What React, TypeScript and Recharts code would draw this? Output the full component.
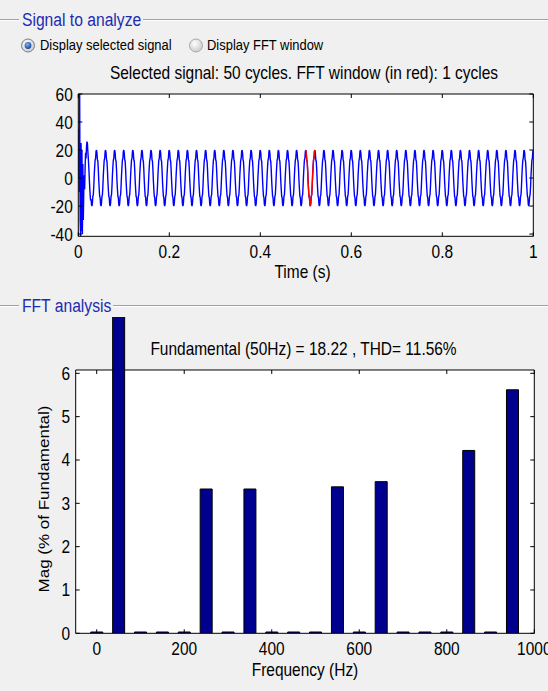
import React from 'react'
import {
  LineChart,
  Line,
  BarChart,
  Bar,
  XAxis,
  YAxis,
  CartesianGrid,
  ReferenceArea,
  ReferenceLine
} from 'recharts'

const FONT = '"Liberation Sans", Arial, Helvetica, sans-serif'
// the screenshot text is narrower than plain Arial
const SQUEEZE = 0.86
const PLOT_FONT = 18

// signal: one steady-state cycle, 1 ms steps, starting on the positive peak
const CYCLE = [20, 18, 13, 12, 6, -2, -8, -13, -14, -19, -20, -18, -13, -12, -6, 2, 8, 13, 14, 19]
// start-up transient, first 40 ms
const TRANSIENT = [
  0, 35, -10, 60, -30, -42, 25, -38, 20, -40, 10, -30, -10, 2, -8, 8, 18, 14, 22, 26,
  25, 19, 14, 8, 1, -6, -12, -16, -15, -19, -20, -18, -13, -12, -6, 2, 8, 13, 14, 19
]
const N_CYCLES = 50
const STEP = 0.001
const FFT_WINDOW = [0.5, 0.52]
const TIME_TICKS = [0, 0.2, 0.4, 0.6, 0.8, 1]
const SIGNAL_TICKS = [-40, -20, 0, 20, 40, 60]
const SIGNAL_DOMAIN = [-41.6, 60]

// FFT harmonics, % of fundamental (fundamental runs off the top)
const FREQS = [0, 50, 100, 150, 200, 250, 300, 350, 400, 450, 500, 550, 600, 650, 700, 750, 800, 850, 900, 950]
const MAGS = [0.03, 100, 0.03, 0.03, 0.03, 3.33, 0.03, 3.33, 0.03, 0.03, 0.03, 3.38, 0.03, 3.5, 0.03, 0.03, 0.03, 4.22, 0.03, 5.62]
const FREQ_TICKS = [0, 200, 400, 600, 800, 1000]
const MAG_TICKS = [0, 1, 2, 3, 4, 5, 6]
const FREQ_DOMAIN = [-48, 1000]
const MAG_DOMAIN = [0, 7.3]
const BOX_TOP = 6.077

const signalData: { t: number; v: number; win: number | null }[] = []
for (let i = 0; i <= N_CYCLES * CYCLE.length; i++) {
  const t = +(i * STEP).toFixed(3)
  const v = i < TRANSIENT.length ? TRANSIENT[i] : CYCLE[i % CYCLE.length]
  signalData.push({ t, v, win: t >= FFT_WINDOW[0] && t <= FFT_WINDOW[1] ? v : null })
}

const fftData = FREQS.map((f, i) => ({ f, m: MAGS[i] }))

const TICK_LEN = 4

function T({ x, y, size = PLOT_FONT, sx = SQUEEZE, anchor = 'middle', fill = '#000', children }: any) {
  return (
    <text
      transform={`translate(${x},${y}) scale(${sx},1)`}
      textAnchor={anchor}
      fontFamily={FONT}
      fontSize={size}
      fill={fill}
    >
      {children}
    </text>
  )
}

const leftTick = (p: any) => (
  <g>
    <line x1={p.x} y1={p.y} x2={p.x + TICK_LEN} y2={p.y} stroke="#000" />
    <T x={p.x - 5.5} y={p.y + 6.5} anchor="end">{p.payload.value}</T>
  </g>
)

const rightTick = (p: any) => (
  <line x1={p.x} y1={p.y} x2={p.x - TICK_LEN} y2={p.y} stroke="#000" />
)

const bottomTick = (p: any) => (
  <g>
    <line x1={p.x} y1={p.y} x2={p.x} y2={p.y - TICK_LEN} stroke="#000" />
    <T x={p.x} y={p.y + 21.5}>{p.payload.value}</T>
  </g>
)

const topTick = (p: any) => (
  <line x1={p.x} y1={p.y} x2={p.x} y2={p.y + TICK_LEN} stroke="#000" />
)

function SignalChart() {
  return (
    <LineChart
      width={548}
      height={290}
      data={signalData}
      margin={{ top: 93, right: 13.7, bottom: 23.7, left: 38.3 }}
    >
      <CartesianGrid fill="#fff" horizontal={false} vertical={false} />
      <XAxis
        dataKey="t"
        type="number"
        domain={[0, 1]}
        allowDataOverflow
        ticks={TIME_TICKS}
        interval={0}
        height={30}
        tickSize={0}
        tickMargin={0}
        axisLine={{ stroke: '#000' }}
        tick={bottomTick}
      />
      <XAxis
        xAxisId="top"
        orientation="top"
        dataKey="t"
        type="number"
        domain={[0, 1]}
        allowDataOverflow
        ticks={TIME_TICKS}
        interval={0}
        height={1}
        tickSize={0}
        tickMargin={0}
        axisLine={{ stroke: '#000' }}
        tick={topTick}
      />
      <YAxis
        type="number"
        domain={SIGNAL_DOMAIN}
        allowDataOverflow
        ticks={SIGNAL_TICKS}
        interval={0}
        width={40}
        tickSize={0}
        tickMargin={0}
        axisLine={{ stroke: '#000' }}
        tick={leftTick}
      />
      <YAxis
        yAxisId="right"
        orientation="right"
        type="number"
        domain={SIGNAL_DOMAIN}
        allowDataOverflow
        ticks={SIGNAL_TICKS}
        interval={0}
        width={1}
        tickSize={0}
        tickMargin={0}
        axisLine={{ stroke: '#000' }}
        tick={rightTick}
      />
      <Line dataKey="v" stroke="#0000ff" strokeWidth={1.4} dot={false} isAnimationActive={false} />
      <Line dataKey="win" stroke="#ff0000" strokeWidth={1.4} dot={false} isAnimationActive={false} />
    </LineChart>
  )
}

function FftChart() {
  return (
    <BarChart
      width={548}
      height={391}
      data={fftData}
      margin={{ top: 17, right: 12.7, bottom: 27.7, left: 35.7 }}
    >
      <XAxis
        dataKey="f"
        type="number"
        domain={FREQ_DOMAIN}
        allowDataOverflow
        ticks={FREQ_TICKS}
        interval={0}
        height={30}
        tickSize={0}
        tickMargin={0}
        axisLine={false}
        tick={bottomTick}
      />
      <YAxis
        type="number"
        domain={MAG_DOMAIN}
        allowDataOverflow
        ticks={MAG_TICKS}
        interval={0}
        width={40}
        tickSize={0}
        tickMargin={0}
        axisLine={false}
        tick={leftTick}
      />
      <YAxis
        yAxisId="right"
        orientation="right"
        type="number"
        domain={MAG_DOMAIN}
        allowDataOverflow
        ticks={MAG_TICKS}
        interval={0}
        width={1}
        tickSize={0}
        tickMargin={0}
        axisLine={false}
        tick={rightTick}
      />
      <ReferenceArea
        x1={FREQ_DOMAIN[0]}
        x2={FREQ_DOMAIN[1]}
        y1={0}
        y2={BOX_TOP}
        fill="#fff"
        fillOpacity={1}
        stroke="#000"
        strokeWidth={1}
      />
      {FREQ_TICKS.map(f => (
        <ReferenceLine
          key={f}
          segment={[{ x: f, y: BOX_TOP }, { x: f, y: BOX_TOP - 0.092 }]}
          stroke="#000"
        />
      ))}
      <Bar dataKey="m" barSize={12} fill="#00008f" stroke="#000" strokeWidth={1} isAnimationActive={false} />
    </BarChart>
  )
}

const HEADER = '#1e2bb0'

function Backdrop() {
  return (
    <svg width={548} height={691} style={{ position: 'absolute', left: 0, top: 0 }}>
      <defs>
        <radialGradient id="ring" cx="40%" cy="35%" r="70%">
          <stop offset="0%" stopColor="#ffffff" />
          <stop offset="100%" stopColor="#c8c8c8" />
        </radialGradient>
        <radialGradient id="dot" cx="40%" cy="35%" r="70%">
          <stop offset="0%" stopColor="#7fb3f0" />
          <stop offset="100%" stopColor="#0d3f94" />
        </radialGradient>
      </defs>
      <rect width={548} height={691} fill="#f0f0f0" />

      <line x1={0} y1={19.5} x2={19} y2={19.5} stroke="#a0a0a0" />
      <line x1={0} y1={20.5} x2={19} y2={20.5} stroke="#fff" />
      <line x1={143} y1={19.5} x2={548} y2={19.5} stroke="#a0a0a0" />
      <line x1={143} y1={20.5} x2={548} y2={20.5} stroke="#fff" />
      <T x={22} y={25.5} size={18} sx={0.87} anchor="start" fill={HEADER}>Signal to analyze</T>

      <circle cx={28} cy={45.5} r={6.5} fill="url(#ring)" stroke="#7e7e7e" />
      <circle cx={28} cy={45.5} r={3.4} fill="url(#dot)" />
      <T x={40} y={50} size={14.8} sx={0.875} anchor="start">Display selected signal</T>
      <circle cx={196} cy={45.5} r={6.5} fill="url(#ring)" stroke="#a8a8a8" />
      <T x={207} y={50} size={14.8} sx={0.875} anchor="start">Display FFT window</T>

      <T x={304} y={79}>Selected signal: 50 cycles. FFT window (in red): 1 cycles</T>
      <T x={302.5} y={278}>Time (s)</T>

      <line x1={0} y1={305.5} x2={19} y2={305.5} stroke="#a0a0a0" />
      <line x1={0} y1={306.5} x2={19} y2={306.5} stroke="#fff" />
      <line x1={113} y1={305.5} x2={548} y2={305.5} stroke="#a0a0a0" />
      <line x1={113} y1={306.5} x2={548} y2={306.5} stroke="#fff" />
      <T x={22} y={311.5} size={18} sx={0.87} anchor="start" fill={HEADER}>FFT analysis</T>

      <T x={303.5} y={355}>Fundamental (50Hz) = 18.22 , THD= 11.56%</T>
      <T x={305} y={675.5}>Frequency (Hz)</T>
      <text
        transform={`translate(49,499) rotate(-90) scale(1,${SQUEEZE})`}
        textAnchor="middle"
        fontFamily={FONT}
        fontSize={17}
        fill="#000"
      >
        Mag (% of Fundamental)
      </text>
    </svg>
  )
}

export default function App() {
  return (
    <div
      style={{
        position: 'absolute',
        left: 0,
        top: 0,
        width: 548,
        height: 691,
        overflow: 'hidden',
        background: '#f0f0f0'
      }}
    >
      <Backdrop />
      <div style={{ position: 'absolute', left: 0, top: 0 }}>
        <SignalChart />
      </div>
      <div style={{ position: 'absolute', left: 0, top: 300 }}>
        <FftChart />
      </div>
    </div>
  )
}
